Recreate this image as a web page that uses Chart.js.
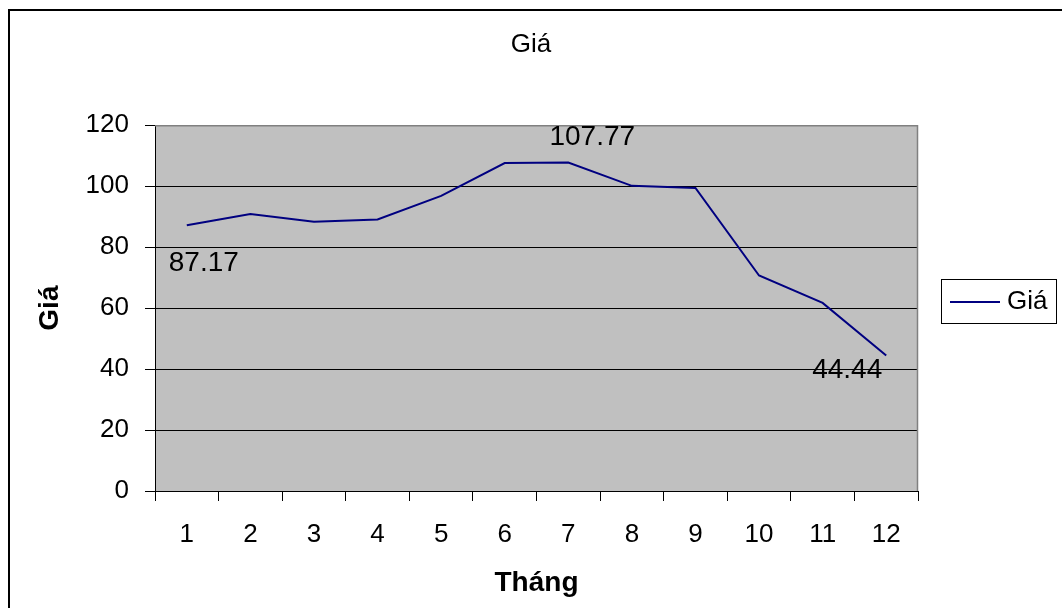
<!DOCTYPE html>
<html lang="vi">
<head>
    <meta charset="UTF-8">
    <title>Giá</title>
    <script src="https://cdn.jsdelivr.net/npm/chart.js"></script>
    <style>
        html, body { margin: 0; padding: 0; background: #fff; }
        .chart-container { position: relative; width: 1062px; height: 608px; }
    </style>
</head>
<body>
    <div class="chart-container">
        <canvas id="priceChart"></canvas>
    </div>

    <script>
        // data
        const months = ['1', '2', '3', '4', '5', '6', '7', '8', '9', '10', '11', '12'];
        const prices = [87.17, 90.9, 88.3, 89.1, 96.8, 107.6, 107.77, 100.1, 99.4, 70.7, 61.7, 44.44];
        const labelledPoints = [0, 6, 11];
        const yTicks = [0, 20, 40, 60, 80, 100, 120];

        const FONT = "'Liberation Sans', Arial, sans-serif";
        const NAVY = '#000080';

        // where each value label sits relative to its point (px)
        const labelShift = { 0: [17, 38], 6: [24, -25], 11: [-39, 15] };

        const chartDecor = {
            id: 'chartDecor',
            beforeDraw(chart) {
                const { ctx, chartArea: a } = chart;
                ctx.save();
                ctx.fillStyle = '#fff';
                ctx.fillRect(0, 0, chart.width, chart.height);
                // outer frame, right and bottom run off the page
                ctx.strokeStyle = '#000';
                ctx.lineWidth = 2;
                ctx.strokeRect(9, 10, chart.width + 20, chart.height + 20);
                // plot area
                ctx.fillStyle = '#c0c0c0';
                ctx.fillRect(a.left, a.top, a.right - a.left, a.bottom - a.top);
                ctx.restore();
            },
            beforeDatasetsDraw(chart) {
                const { ctx, chartArea: a } = chart;
                ctx.save();
                ctx.strokeStyle = '#808080';
                ctx.lineWidth = 1.5;
                ctx.beginPath();
                ctx.moveTo(a.left, a.top + 0.5);
                ctx.lineTo(a.right - 0.5, a.top + 0.5);
                ctx.lineTo(a.right - 0.5, a.bottom);
                ctx.stroke();
                ctx.restore();
            },
            afterDatasetsDraw(chart) {
                const { ctx } = chart;
                const meta = chart.getDatasetMeta(0);
                ctx.save();
                ctx.fillStyle = '#000';
                ctx.font = '28px ' + FONT;
                ctx.textAlign = 'center';
                ctx.textBaseline = 'middle';
                labelledPoints.forEach((i) => {
                    const pt = meta.data[i];
                    const s = labelShift[i] || [0, -20];
                    ctx.fillText(prices[i].toFixed(2), pt.x + s[0], pt.y + s[1]);
                });

                // legend box
                const lx = 941, ly = 279, lw = 115, lh = 44;
                ctx.fillStyle = '#fff';
                ctx.fillRect(lx, ly, lw, lh);
                ctx.strokeStyle = '#000';
                ctx.lineWidth = 1;
                ctx.strokeRect(lx + 0.5, ly + 0.5, lw, lh);
                ctx.strokeStyle = NAVY;
                ctx.lineWidth = 2;
                ctx.beginPath();
                ctx.moveTo(950, ly + lh / 2 + 1);
                ctx.lineTo(1000, ly + lh / 2 + 1);
                ctx.stroke();
                ctx.fillStyle = '#000';
                ctx.font = '26px ' + FONT;
                ctx.textAlign = 'left';
                ctx.fillText(chart.data.datasets[0].label, 1007, ly + lh / 2 + 1);
                ctx.restore();
            }
        };

        const ctx = document.getElementById('priceChart').getContext('2d');

        const myChart = new Chart(ctx, {
            type: 'line',
            data: {
                labels: months,
                datasets: [{
                    label: 'Giá',
                    data: prices,
                    borderColor: NAVY,
                    borderWidth: 2,
                    pointRadius: 0,
                    tension: 0,
                    fill: false
                }]
            },
            options: {
                responsive: true,
                maintainAspectRatio: false,
                animation: false,
                layout: { padding: 0 },
                plugins: {
                    legend: { display: false },
                    tooltip: { enabled: false },
                    title: {
                        display: true,
                        text: 'Giá',
                        color: '#000',
                        font: { family: FONT, size: 26, weight: 'normal', lineHeight: 1.2 },
                        padding: { top: 29, bottom: 65 }
                    }
                },
                scales: {
                    x: {
                        offset: true,
                        grid: {
                            offset: true,
                            drawOnChartArea: false,
                            drawTicks: true,
                            tickLength: 10,
                            color: '#000'
                        },
                        border: { color: '#000', width: 1 },
                        ticks: {
                            color: '#000',
                            padding: 18,
                            maxRotation: 0,
                            font: { family: FONT, size: 26 }
                        },
                        title: {
                            display: true,
                            text: 'Tháng',
                            color: '#000',
                            font: { family: FONT, size: 28, weight: 'bold', lineHeight: 1.2 },
                            padding: { top: 0, bottom: 8 }
                        },
                        afterFit(scale) { scale.height = 117; }
                    },
                    y: {
                        min: 0,
                        max: 120,
                        afterBuildTicks(scale) {
                            scale.ticks = yTicks.map((v) => ({ value: v }));
                        },
                        grid: {
                            color: '#000',
                            lineWidth: 1,
                            tickLength: 10
                        },
                        border: { color: '#000', width: 1 },
                        ticks: {
                            color: '#000',
                            padding: 16,
                            font: { family: FONT, size: 26 }
                        },
                        title: {
                            display: true,
                            text: 'Giá',
                            color: '#000',
                            font: { family: FONT, size: 28, weight: 'bold', lineHeight: 1.2 },
                            padding: { top: 33, bottom: 0 }
                        },
                        afterFit(scale) { scale.width = 155; }
                    },
                    // empty strip on the right that holds room for the legend
                    side: {
                        type: 'linear',
                        position: 'right',
                        grid: { display: false },
                        border: { display: false },
                        ticks: { display: false },
                        afterFit(scale) { scale.width = 144; }
                    }
                }
            },
            plugins: [chartDecor]
        });
    </script>
</body>
</html>
